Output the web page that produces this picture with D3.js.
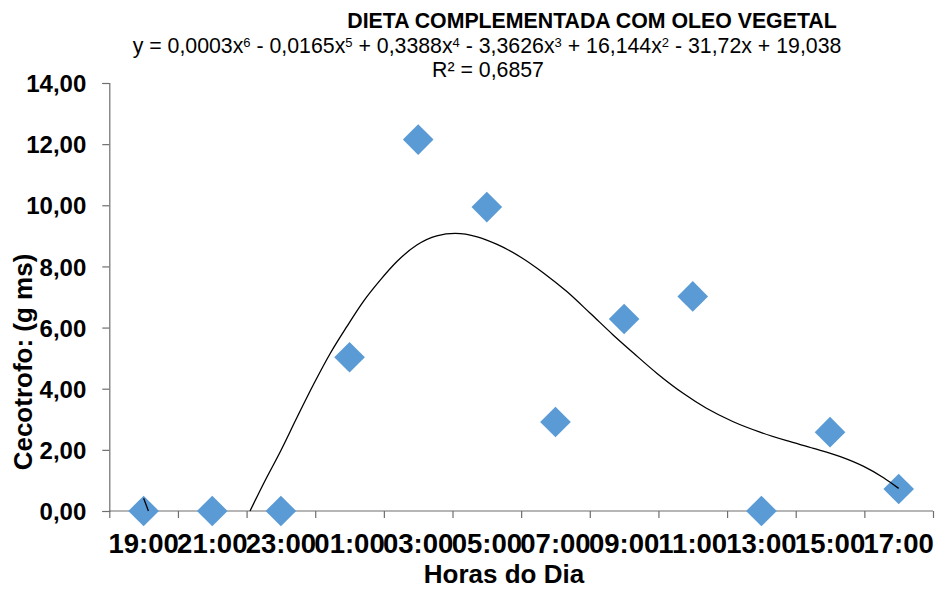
<!DOCTYPE html>
<html><head><meta charset="utf-8">
<script src="https://cdn.jsdelivr.net/npm/d3@7"></script>
<style>
body{margin:0;background:#fff}
svg{display:block}
text{font-family:"Liberation Sans",Arial,Helvetica,sans-serif;fill:#000}
</style>
</head><body>
<svg id="c" width="935" height="589"></svg>
<script>
// ---- data ----
const categories = ["19:00","21:00","23:00","01:00","03:00","05:00","07:00","09:00","11:00","13:00","15:00","17:00"];
const values = [0, 0, 0, 5.03, 12.15, 9.94, 2.91, 6.28, 7.02, 0, 2.58, 0.72];
const yTicks = [0, 2, 4, 6, 8, 10, 12, 14];
// trend line (category position, value); null = hidden below axis
const trendPos = [1.00, 1.07, null, 2.55, 2.75, 3.00, 3.23, 3.48, 3.72, 3.96, 4.20, 4.45, 4.69, 4.98, 5.27, 5.54, 5.86, 6.15, 6.49, 6.83, 7.17, 7.51, 7.84, 8.14, 8.48, 8.86, 9.20, 9.59, 9.98, 10.37, 10.76, 11.15, 11.49, 11.78, 12.00];
const trendVal = [0.42, 0.00, null, 0.00, 0.91, 1.98, 3.04, 4.16, 5.16, 6.03, 6.85, 7.56, 8.16, 8.70, 9.00, 9.08, 8.97, 8.72, 8.31, 7.78, 7.17, 6.46, 5.76, 5.16, 4.50, 3.85, 3.36, 2.92, 2.58, 2.30, 2.05, 1.78, 1.46, 1.09, 0.74];
const titleText = "DIETA COMPLEMENTADA COM OLEO VEGETAL";
const eqParts = ["y = 0,0003x", "6", " - 0,0165x", "5", " + 0,3388x", "4", " - 3,3626x", "3", " + 16,144x", "2", " - 31,72x + 19,038"];
const r2Text = "R² = 0,6857";
const xTitle = "Horas do Dia";
const yTitle = "Cecotrofo: (g ms)";

// ---- layout ----
const svg = d3.select("#c");
const L = 109.3, R = 933, T = 83, B = 511;
const axisColor = "#6e6e6e";
const FF = "Liberation Sans, Arial, sans-serif";

const xBand = d3.scaleBand().domain(categories).range([L, R]).padding(0);
const xPos = d3.scaleLinear().domain([0.5, categories.length + 0.5]).range([L, R]);
const y = d3.scaleLinear().domain([0, 14]).range([B, T]);

// y axis
const gy = svg.append("g").attr("transform", `translate(${L},0)`)
  .call(d3.axisLeft(y).tickValues(yTicks).tickSize(7).tickPadding(16)
    .tickFormat(d => d.toFixed(2).replace(".", ",")));
gy.select(".domain").attr("stroke", axisColor).attr("stroke-width", 1.2);
gy.selectAll(".tick line").attr("stroke", axisColor).attr("stroke-width", 1.2);
gy.selectAll(".tick text").attr("font-size", 24).attr("font-weight", "bold")
  .attr("font-family", FF).attr("fill", "#000").attr("dy", "0.36em");

// x axis ticks at category boundaries
const gx = svg.append("g").attr("transform", `translate(0,${B})`)
  .call(d3.axisBottom(xPos).tickValues(d3.range(0.5, categories.length + 1, 1)).tickSize(7).tickFormat(""));
gx.select(".domain").attr("stroke", axisColor).attr("stroke-width", 1.2).attr("d", `M${L},0H${R}`);
gx.selectAll(".tick line").attr("stroke", axisColor).attr("stroke-width", 1.2);

// x labels
const gxl = svg.append("g").attr("transform", `translate(0,${B})`)
  .call(d3.axisBottom(xBand).tickSize(0).tickPadding(0));
gxl.select(".domain").remove();
gxl.selectAll(".tick text").attr("font-size", 27.5).attr("font-weight", "bold")
  .attr("font-family", FF).attr("fill", "#000")
  .attr("dy", null).attr("y", 41.5);

// markers
const diamond = d3.symbol().type(d3.symbolSquare).size(470);
svg.append("g").selectAll("path").data(values).join("path")
  .attr("d", diamond)
  .attr("transform", (d, i) => `translate(${xBand(categories[i]) + xBand.bandwidth() / 2},${y(d)}) rotate(45)`)
  .attr("fill", "#5B9BD5");

// trend line
const trend = trendPos.map((p, i) => ({p, v: trendVal[i]}));
const line = d3.line().defined(d => d.v != null)
  .x(d => xPos(d.p)).y(d => y(d.v)).curve(d3.curveMonotoneX);
svg.append("path").datum(trend).attr("d", line)
  .attr("fill", "none").attr("stroke", "#000").attr("stroke-width", 1.3);

// titles
svg.append("text").attr("x", 592).attr("y", 28).attr("text-anchor", "middle")
  .attr("font-size", 21.3).attr("font-weight", "bold").text(titleText);
const eq = svg.append("text").attr("x", 487).attr("y", 53).attr("text-anchor", "middle").attr("font-size", 21.3);
eqParts.forEach((p, i) => {
  const t = eq.append("tspan").text(p);
  if (i % 2 === 1) t.attr("font-size", 13).attr("dy", -6);
  else if (i > 0) t.attr("dy", 6);
});
svg.append("text").attr("x", 488).attr("y", 77).attr("text-anchor", "middle")
  .attr("font-size", 21.3).text(r2Text);

svg.append("text").attr("x", 504).attr("y", 583).attr("text-anchor", "middle")
  .attr("font-size", 26).attr("font-weight", "bold").text(xTitle);
svg.append("text").attr("transform", `translate(32,362) rotate(-90)`).attr("text-anchor", "middle")
  .attr("font-size", 26).attr("font-weight", "bold").text(yTitle);
</script>
</body></html>
